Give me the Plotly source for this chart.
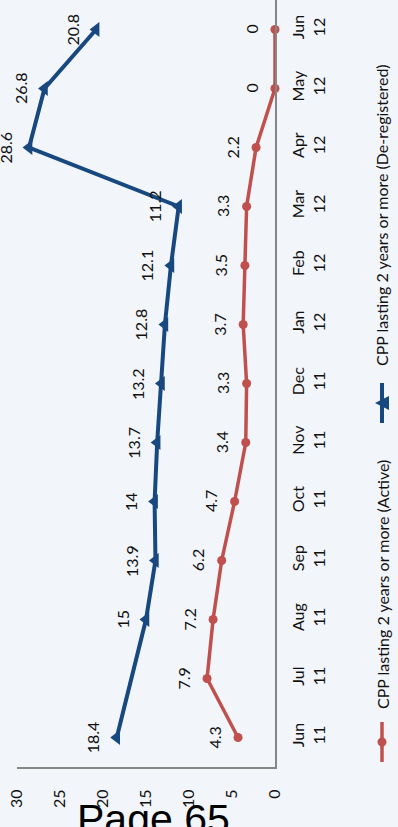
import plotly.graph_objects as go

months = ["Jun<br>11", "Jul<br>11", "Aug<br>11", "Sep<br>11", "Oct<br>11", "Nov<br>11", "Dec<br>11",
          "Jan<br>12", "Feb<br>12", "Mar<br>12", "Apr<br>12", "May<br>12", "Jun<br>12"]
active = [4.3, 7.9, 7.2, 6.2, 4.7, 3.4, 3.3, 3.7, 3.5, 3.3, 2.2, 0, 0]
dereg = [18.4, None, 15, 13.9, 14, 13.7, 13.2, 12.8, 12.1, 11.2, 28.6, 26.8, 20.8]
value_ticks = [0, 5, 10, 15, 20, 25, 30]
series_names = ["CPP lasting 2 years or more (Active)", "CPP lasting 2 years or more (De-registered)"]

RED = "#c0504d"
BLUE = "#17487f"
BG = "#f2f5f9"
FONT = "Lato"
idx = list(range(len(months)))

fig = go.Figure()
fig.add_trace(go.Scatter(x=active, y=idx, mode="lines+markers",
                         line=dict(color=RED, width=3.5),
                         marker=dict(symbol="circle", size=9, color=RED),
                         cliponaxis=False, showlegend=False))
fig.add_trace(go.Scatter(x=dereg, y=idx, mode="lines+markers", connectgaps=True,
                         line=dict(color=BLUE, width=4),
                         marker=dict(symbol="triangle-left", size=13, color=BLUE),
                         cliponaxis=False, showlegend=False))

ann = []
for vals in (active, dereg):
    for i, v in enumerate(vals):
        if v is None:
            continue
        ann.append(dict(x=v, y=i, xref="x", yref="y", text=f"{v:g}", showarrow=False,
                        xanchor="center", yanchor="middle",
                        textangle=-90, xshift=-24, font=dict(family=FONT, size=16, color="#111")))

# legend (rotated)
W, H = 398, 827
L, R, T, B = 17, 275, 0, 767
def px(x): return (x - L) / (R - L)
def py(y): return (B - y) / (B - T)

shapes = [
    dict(type="line", xref="paper", yref="paper", x0=px(382), x1=px(382), y0=py(722), y1=py(762),
         line=dict(color=RED, width=3.5)),
    dict(type="circle", xref="paper", yref="paper", x0=px(377.5), x1=px(386.5), y0=py(746.5), y1=py(737.5),
         fillcolor=RED, line=dict(color=RED, width=0)),
    dict(type="line", xref="paper", yref="paper", x0=px(382), x1=px(382), y0=py(383), y1=py(423),
         line=dict(color=BLUE, width=4)),
    dict(type="path", xref="paper", yref="paper",
         path=f"M {px(375)} {py(403)} L {px(389)} {py(396)} L {px(389)} {py(410)} Z",
         fillcolor=BLUE, line=dict(color=BLUE, width=0)),
]
ann.append(dict(xref="paper", yref="paper", x=px(382), y=py(585), text=series_names[0], showarrow=False,
                xanchor="center", yanchor="middle",
                textangle=-90, font=dict(family=FONT, size=16, color="#111")))
ann.append(dict(xref="paper", yref="paper", x=px(382), y=py(215), text=series_names[1], showarrow=False,
                xanchor="center", yanchor="middle",
                textangle=-90, font=dict(family=FONT, size=16, color="#111")))
ann.append(dict(xref="paper", yref="paper", x=px(153), y=py(819), text="Page 65", showarrow=False,
                xanchor="center", yanchor="middle",
                font=dict(family="Liberation Sans", size=41, color="#000")))

fig.update_layout(
    width=W, height=H, margin=dict(l=L, r=W - R, t=T, b=H - B),
    paper_bgcolor=BG, plot_bgcolor=BG,
    shapes=shapes, annotations=ann, showlegend=False,
)
fig.update_xaxes(range=[30, 0], tickvals=value_ticks, tickangle=-90, showgrid=False, zeroline=False,
                 showline=True, linecolor="#868686", linewidth=2, ticks="", ticklabelstandoff=14,
                 tickfont=dict(family=FONT, size=16, color="#111"))
fig.update_yaxes(range=[-0.5, 12.5], tickvals=idx, ticktext=months, side="right", tickangle=-90,
                 showgrid=False, zeroline=False, showline=True, linecolor="#868686", linewidth=2,
                 ticks="", ticklabelstandoff=8, tickfont=dict(family=FONT, size=16, color="#111"))

fig.write_html("out.html")
